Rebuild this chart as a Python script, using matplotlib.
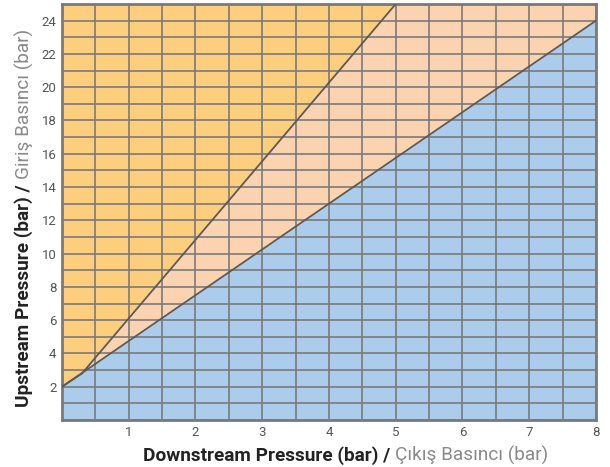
import numpy as np
import matplotlib.pyplot as plt
from matplotlib.ticker import MultipleLocator

# downstream / upstream pressure boundaries (bar)
lower_x = [0, 8]
lower_y = [2, 24]
upper_x = [0, 0.3, 5, 8]
upper_y = [2, 2.8, 25, 39.1]

x_ticks = [1, 2, 3, 4, 5, 6, 7, 8]
y_ticks = [2, 4, 6, 8, 10, 12, 14, 16, 18, 20, 22, 24]

C_ORANGE = "#fdce7e"
C_PEACH = "#fcd3b0"
C_BLUE = "#abcdeb"
C_GRID = "#7a7a7a"

plt.rcParams["font.family"] = ["Roboto", "DejaVu Sans"]

fig = plt.figure(figsize=(6.1, 4.67), dpi=100)
ax = fig.add_axes([0.1016, 0.1006, 0.8754, 0.8908])

XMAX, YMAX = 8, 25
xs = np.linspace(0, XMAX, 801)
lo = np.interp(xs, lower_x, lower_y)
up = np.interp(xs, upper_x, upper_y)

ax.fill_between(xs, 0, lo, color=C_BLUE, lw=0, zorder=0)
ax.fill_between(xs, lo, np.minimum(up, YMAX), color=C_PEACH, lw=0, zorder=0)
ax.fill_between(xs, np.minimum(up, YMAX), YMAX, color=C_ORANGE, lw=0, zorder=0)

ax.plot(lower_x, lower_y, color="#5a5a5a", lw=1.3, zorder=3)
ax.plot(upper_x, upper_y, color="#5a5a5a", lw=1.3, zorder=3)

ax.set_xlim(0, XMAX)
ax.set_ylim(0, YMAX)
ax.xaxis.set_minor_locator(MultipleLocator(0.5))
ax.yaxis.set_minor_locator(MultipleLocator(1))
ax.set_xticks(x_ticks)
ax.set_yticks(y_ticks)
ax.grid(which="both", color=C_GRID, lw=1.2, zorder=2)
ax.set_axisbelow(False)
ax.tick_params(which="both", length=0, labelsize=9.5, labelcolor="#555555", pad=4)
for s in ax.spines.values():
    s.set_color(C_GRID)
    s.set_linewidth(2)

# two-tone axis titles: bold English, plain grey Turkish
lbl = dict(fontsize=13.7)
fig.canvas.draw()
r = fig.canvas.get_renderer()

t1 = fig.text(0.2344, 0.013, "Downstream Pressure (bar) /", fontweight="bold",
              color="#222222", **lbl)
bb = t1.get_window_extent(r)
fig.text(bb.x1 / fig.bbox.width + 0.008, 0.013, "Çıkış Basıncı (bar)",
         color="#8a8a8a", **lbl)

t2 = fig.text(0.024, 0.128, "Upstream Pressure (bar) /", fontweight="bold",
              color="#222222", rotation=90, va="bottom", **lbl)
bb = t2.get_window_extent(r)
fig.text(0.024, bb.y1 / fig.bbox.height + 0.011, "Giriş Basıncı (bar)",
         color="#8a8a8a", rotation=90, va="bottom", **lbl)

fig.savefig("out.png", dpi=100)
